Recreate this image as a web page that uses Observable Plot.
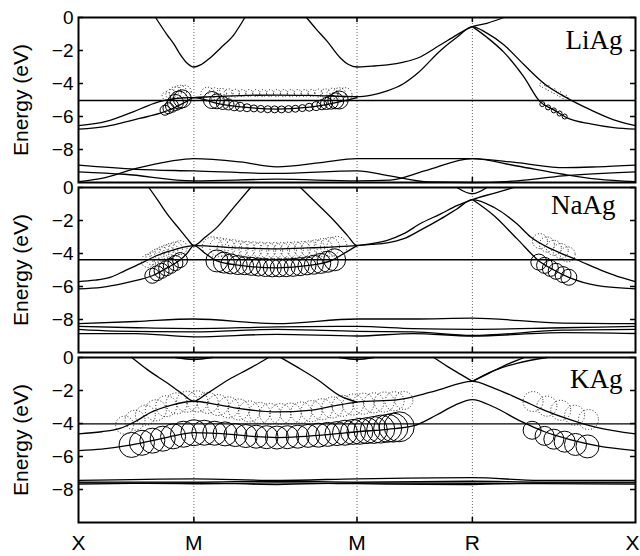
<!DOCTYPE html>
<html><head><meta charset="utf-8">
<script src="https://cdn.jsdelivr.net/npm/d3@7"></script>
<script src="https://cdn.jsdelivr.net/npm/@observablehq/plot@0.6"></script>
<style>
body{margin:0;background:#fff;}
#chart svg{display:block;}
</style></head><body><div id="chart"></div>
<script>
// ---------- data ----------
const panels = ["LiAg", "NaAg", "KAg"];
const kTicks = [0, 0.5, 1.207, 1.707, 2.414];
const kLabels = ["X", "M", "M", "R", "X"];
const yTicks = [0, -2, -4, -6, -8];
const fermiLevels = [-5.03, -4.38, -4.02];

const liAgBands = [
  [[0.334,0],[0.384,-1.05],[0.413,-1.6],[0.442,-2.26],[0.471,-2.77],[0.5,-3.0],[0.529,-2.87],[0.57,-2.45],[0.615,-1.86],[0.673,-1.05],[0.721,0]],
  [[0.988,0],[1.03,-0.7],[1.078,-1.45],[1.136,-2.47],[1.17,-2.85],[1.207,-3.0],[1.27,-2.95],[1.338,-2.87],[1.41,-2.7],[1.468,-2.47],[1.569,-1.65],[1.64,-1.05],[1.707,-0.55],[1.77,-0.35],[1.843,0]],
  [[0,-6.55],[0.12,-6.3],[0.24,-5.7],[0.3,-5.35],[0.355,-5.09],[0.44,-4.89],[0.5,-4.85],[0.7,-4.73],[0.86,-4.7],[1.0,-4.72],[1.207,-4.8],[1.27,-4.7],[1.338,-4.45],[1.41,-4.0],[1.468,-3.4],[1.569,-2.0],[1.64,-1.2],[1.707,-0.55],[1.77,-0.95],[1.843,-1.65],[1.93,-2.85],[2.016,-3.98],[2.12,-4.9],[2.22,-5.6],[2.32,-6.2],[2.414,-6.55]],
  [[0,-6.77],[0.12,-6.6],[0.24,-6.2],[0.3,-6.0],[0.355,-5.8],[0.41,-5.5],[0.46,-5.15],[0.5,-4.85],[0.6,-5.2],[0.73,-5.45],[0.86,-5.55],[0.99,-5.45],[1.1,-5.2],[1.207,-4.85]],
  [[1.707,-0.55],[1.77,-1.2],[1.843,-2.1],[1.93,-3.6],[2.0,-5.1],[2.06,-5.6],[2.12,-6.1],[2.22,-6.45],[2.32,-6.68],[2.414,-6.77]],
  [[0,-9.95],[0.1,-9.75],[0.25,-9.15],[0.4,-8.7],[0.5,-8.55],[0.7,-8.75],[0.86,-9.05],[1.05,-8.8],[1.207,-8.55],[1.45,-8.55],[1.707,-8.55],[1.9,-8.8],[2.11,-9.1],[2.25,-9.05],[2.414,-8.95]],
  [[0,-8.95],[0.25,-9.2],[0.5,-9.3],[0.86,-9.45],[1.207,-9.3],[1.35,-9.6],[1.52,-9.97],[1.707,-10],[1.9,-9.9],[2.1,-9.6],[2.414,-9.35]],
  [[0,-9.35],[0.2,-9.5],[0.5,-9.9],[0.86,-9.8],[1.207,-9.9],[1.35,-9.85],[1.5,-9.3],[1.707,-8.55],[1.9,-9.0],[2.1,-9.5],[2.25,-9.8],[2.414,-9.95]]
];

const naAgBands = [
  [[0.305,0],[0.345,-0.8],[0.384,-1.6],[0.442,-2.6],[0.471,-3.1],[0.5,-3.52],[0.55,-3.0],[0.601,-2.4],[0.673,-1.2],[0.746,0]],
  [[0.962,0],[1.035,-1.0],[1.107,-2.0],[1.165,-2.9],[1.207,-3.52],[1.27,-3.4],[1.338,-3.2],[1.41,-2.8],[1.48,-2.2],[1.57,-1.6],[1.64,-1.1],[1.707,-0.73],[1.8,-0.35],[1.886,0]],
  [[0,-5.7],[0.07,-5.62],[0.14,-5.43],[0.2,-5.05],[0.27,-4.6],[0.34,-4.12],[0.42,-3.75],[0.5,-3.52],[0.7,-3.66],[0.86,-3.72],[1.0,-3.66],[1.207,-3.52],[1.27,-3.45],[1.338,-3.35],[1.41,-3.1],[1.48,-2.6],[1.57,-1.9],[1.64,-1.3],[1.707,-0.73],[1.8,-1.2],[1.9,-2.2],[1.96,-3.0],[2.06,-3.8],[2.16,-4.38],[2.28,-5.1],[2.35,-5.45],[2.414,-5.7]],
  [[0,-6.14],[0.1,-6.05],[0.2,-5.8],[0.26,-5.6],[0.32,-5.35],[0.38,-4.9],[0.44,-4.4],[0.47,-4.0],[0.5,-3.52],[0.55,-4.0],[0.6,-4.45],[0.7,-4.72],[0.86,-4.87],[1.0,-4.72],[1.1,-4.4],[1.15,-4.0],[1.207,-3.52]],
  [[1.707,-0.73],[1.8,-1.7],[1.9,-3.1],[2.0,-4.5],[2.06,-5.0],[2.125,-5.45],[2.25,-5.95],[2.414,-6.14]],
  [[1.64,0],[1.707,-0.38],[1.77,0]],
  [[0,-8.25],[0.25,-8.12],[0.5,-7.97],[0.86,-8.25],[1.207,-7.97],[1.45,-7.97],[1.707,-7.92],[2.1,-8.22],[2.414,-8.25]],
  [[0,-8.42],[0.25,-8.5],[0.5,-8.55],[0.86,-8.45],[1.207,-8.42],[1.45,-8.55],[1.707,-8.6],[2.1,-8.5],[2.414,-8.42]],
  [[0,-8.6],[0.15,-8.7],[0.5,-8.75],[0.86,-8.6],[1.207,-8.72],[1.45,-8.75],[1.707,-8.97],[2.1,-8.65],[2.414,-8.6]],
  [[0,-8.85],[0.25,-8.85],[0.5,-9.05],[0.86,-8.9],[1.207,-9.0],[1.45,-8.85],[1.707,-9.0],[2.1,-8.8],[2.414,-8.85]]
];

const kAgBands = [
  [[0.231,0],[0.3,-0.75],[0.385,-1.55],[0.45,-2.2],[0.5,-2.65],[0.55,-2.25],[0.65,-1.35],[0.75,-0.6],[0.824,0]],
  [[0.876,0],[0.95,-0.6],[1.035,-1.33],[1.136,-2.34],[1.207,-2.7]],
  [[0.42,0],[0.5,-0.12],[0.58,0]],
  [[1.13,0],[1.207,-0.12],[1.28,0]],
  [[0,-4.63],[0.1,-4.5],[0.18,-4.3],[0.25,-3.85],[0.31,-3.35],[0.4,-2.9],[0.5,-2.65],[0.6,-2.85],[0.7,-3.1],[0.86,-3.3],[1.0,-3.2],[1.1,-2.95],[1.207,-2.7],[1.386,-2.55],[1.54,-2.05],[1.707,-1.45],[1.8,-1.85],[1.916,-2.55],[2.02,-3.2],[2.13,-3.76],[2.25,-4.25],[2.414,-4.63]],
  [[0,-5.64],[0.1,-5.55],[0.23,-5.3],[0.35,-4.95],[0.45,-4.65],[0.5,-4.55],[0.6,-4.6],[0.86,-4.85],[1.1,-4.65],[1.207,-4.5],[1.34,-4.35],[1.45,-4.15],[1.55,-3.5],[1.63,-2.9],[1.707,-2.55],[1.8,-3.0],[1.916,-3.86],[2.02,-4.5],[2.13,-4.97],[2.25,-5.35],[2.414,-5.64]],
  [[1.54,0],[1.6,-0.55],[1.66,-1.05],[1.707,-1.45]],
  [[1.707,-1.45],[1.78,-0.95],[1.86,-0.4],[1.93,0]],
  [[1.707,-1.45],[1.8,-0.8],[1.9,-0.35],[2.03,0]],
  [[0,-7.45],[0.5,-7.35],[0.86,-7.45],[1.207,-7.35],[1.707,-7.28],[2.0,-7.45],[2.414,-7.45]],
  [[0,-7.55],[0.5,-7.55],[0.86,-7.5],[1.207,-7.55],[1.707,-7.5],[2.0,-7.55],[2.414,-7.55]],
  [[0,-7.6],[0.5,-7.65],[0.86,-7.6],[1.207,-7.65],[1.707,-7.7],[2.0,-7.6],[2.414,-7.6]],
  [[0,-7.68],[0.5,-7.6],[0.86,-7.7],[1.207,-7.6],[1.707,-7.62],[2.0,-7.65],[2.414,-7.68]]
];

// fat-band circles: [k, E, radius(px)]
const liAgSolid = [
  [0.375,-5.62,5],[0.39,-5.5,5.5],[0.405,-5.35,6.5],[0.42,-5.15,8],[0.435,-5.0,9],[0.45,-4.93,9],
  [0.578,-5.0,8.5],[0.6,-5.08,7.5],[0.625,-5.18,6.5],[0.65,-5.27,5.5],[0.675,-5.35,5],[0.7,-5.41,4.5],[0.73,-5.47,4],[0.76,-5.51,3.5],[0.79,-5.54,3.5],[0.82,-5.56,3.5],[0.85,-5.57,3.5],[0.88,-5.57,3.5],[0.91,-5.55,3.5],[0.94,-5.53,3.5],[0.97,-5.49,3.5],[1.0,-5.44,4],[1.03,-5.37,4.5],[1.055,-5.29,5],[1.075,-5.21,6],[1.095,-5.13,7],[1.115,-5.05,8],[1.13,-5.0,9],
  [2.01,-5.25,2.5],[2.035,-5.45,2.5],[2.06,-5.63,2.5],[2.085,-5.82,2.5],[2.107,-6.0,2.5]
];
const liAgDotted = [
  [0.38,-4.75,4],[0.4,-4.65,5],[0.42,-4.55,6],[0.44,-4.5,6.5],[0.46,-4.5,6.5],
  [0.56,-4.65,7],[0.59,-4.62,6],[0.62,-4.6,5],[0.65,-4.6,4.5],[0.68,-4.59,4],[0.71,-4.58,3.5],[0.74,-4.58,3.5],[0.77,-4.58,3.5],[0.8,-4.58,3.5],[0.83,-4.58,3.5],[0.86,-4.58,3.5],[0.89,-4.58,3.5],[0.92,-4.58,3.5],[0.95,-4.58,3.5],[0.98,-4.58,3.5],[1.01,-4.58,3.5],[1.04,-4.58,4],[1.07,-4.6,4.5],[1.1,-4.62,5.5],[1.13,-4.65,6.5],[1.155,-4.68,7],
  [2.01,-4.08,2.5],[2.035,-4.27,2.5],[2.06,-4.46,2.5],[2.085,-4.65,2.5],[2.11,-4.85,2.5]
];
const naAgSolid = [
  [0.32,-5.35,7.5],[0.34,-5.2,7.5],[0.36,-5.05,7.5],[0.38,-4.9,7.5],[0.4,-4.75,7.5],[0.42,-4.58,7.5],[0.44,-4.4,7.5],
  [0.6,-4.45,11],[0.63,-4.55,10.5],[0.66,-4.63,10],[0.69,-4.7,9.5],[0.72,-4.74,9],[0.75,-4.78,9],[0.78,-4.82,9],[0.81,-4.85,9],[0.84,-4.87,9],[0.87,-4.87,9],[0.9,-4.86,9],[0.93,-4.84,9],[0.96,-4.8,9],[0.99,-4.75,9],[1.02,-4.68,9.5],[1.05,-4.6,10],[1.08,-4.5,10.5],[1.11,-4.38,11],
  [1.995,-4.52,8],[2.02,-4.72,8],[2.045,-4.9,8],[2.07,-5.08,8],[2.1,-5.28,8],[2.125,-5.44,8]
];
const naAgDotted = [
  [0.3,-4.45,6.5],[0.32,-4.3,6.5],[0.34,-4.15,7],[0.36,-4.02,7],[0.38,-3.9,7],[0.4,-3.8,7],[0.42,-3.72,7],[0.44,-3.65,7],
  [0.58,-3.6,10],[0.61,-3.62,9.5],[0.64,-3.65,9],[0.67,-3.68,8.5],[0.7,-3.72,8],[0.73,-3.75,8],[0.76,-3.78,8],[0.79,-3.8,8],[0.82,-3.82,8],[0.85,-3.82,8],[0.88,-3.82,8],[0.91,-3.8,8],[0.94,-3.78,8],[0.97,-3.75,8],[1.0,-3.72,8],[1.03,-3.68,8.5],[1.06,-3.64,9],[1.09,-3.6,9.5],[1.12,-3.57,10],
  [2.0,-3.25,7.5],[2.03,-3.45,7.5],[2.06,-3.65,7.5],[2.09,-3.85,7.5],[2.12,-4.05,7.5]
];
const kAgSolid = [
  [0.23,-5.3,12.5],[0.275,-5.17,12.5],[0.32,-5.04,12.5],[0.365,-4.92,12.5],[0.41,-4.78,12.5],[0.455,-4.65,13],[0.5,-4.56,13],[0.545,-4.56,12.5],[0.59,-4.59,12],[0.635,-4.63,12],[0.68,-4.7,11.5],[0.725,-4.76,11.5],[0.77,-4.8,11.5],[0.815,-4.83,11.5],[0.86,-4.85,11.5],[0.905,-4.83,11.5],[0.95,-4.8,11.5],[0.995,-4.75,11.5],[1.04,-4.71,12],[1.08,-4.66,12],[1.12,-4.61,12],[1.155,-4.56,12.5],[1.19,-4.51,12.5],[1.22,-4.47,13],[1.25,-4.43,13],[1.28,-4.39,13.5],[1.31,-4.34,14],[1.34,-4.29,14],[1.365,-4.25,14.5],[1.39,-4.2,15],
  [1.966,-4.41,9],[2.02,-4.75,9.5],[2.06,-4.95,10],[2.107,-5.1,10.5],[2.154,-5.27,11],[2.206,-5.39,11.5]
];
const kAgDotted = [
  [0.2,-4.1,9],[0.245,-3.8,10],[0.29,-3.5,10],[0.335,-3.2,10.5],[0.38,-2.95,10.5],[0.425,-2.78,10.5],[0.47,-2.68,10.5],[0.515,-2.66,10.5],[0.56,-2.75,10.5],[0.605,-2.88,10.5],[0.65,-3.02,10.5],[0.695,-3.15,10.5],[0.74,-3.27,10.5],[0.785,-3.36,10.5],[0.83,-3.42,10.5],[0.875,-3.43,10.5],[0.92,-3.4,10.5],[0.965,-3.34,10.5],[1.01,-3.25,10.5],[1.055,-3.14,10.5],[1.1,-3.03,10.5],[1.145,-2.93,10.5],[1.19,-2.85,10.5],[1.235,-2.8,10.5],[1.28,-2.75,10],[1.325,-2.7,10],[1.37,-2.65,9.5],[1.41,-2.6,9],
  [1.97,-2.67,10],[2.03,-2.95,10],[2.09,-3.2,10],[2.15,-3.5,10],[2.21,-3.76,10]
];

// ---------- tables built from the arrays ----------
const bandSets = {LiAg: liAgBands, NaAg: naAgBands, KAg: kAgBands};
const solidSets = {LiAg: liAgSolid, NaAg: naAgSolid, KAg: kAgSolid};
const dottedSets = {LiAg: liAgDotted, NaAg: naAgDotted, KAg: kAgDotted};

const bandRows = panels.flatMap(p => bandSets[p].flatMap((b, i) =>
  b.map(([k, E]) => ({panel: p, band: p + "-" + i, k, E}))));
const circleRows = sets => panels.flatMap(p => sets[p].map(([k, E, r]) => ({panel: p, k, E, r})));
const solidRows = circleRows(solidSets);
const dottedRows = circleRows(dottedSets);
const fermiRows = panels.map((p, i) => ({panel: p, E: fermiLevels[i]}));

const labelStyle = {LiAg: {dx: -13, dy: 12}, NaAg: {dx: -20, dy: 7}, KAg: {dx: -13, dy: 11}};
const innerKTicks = kTicks.slice(1, 4);
const lastPanel = panels[panels.length - 1];
const tickLabel = d => kLabels[kTicks.indexOf(d)];

const chart = Plot.plot({
  width: 640,
  height: 556,
  marginTop: 16,
  marginBottom: 34,
  marginLeft: 78,
  marginRight: 5,
  x: {domain: [0, 2.414]},
  y: {domain: [-10, 0]},
  fy: {domain: panels, axis: null, paddingInner: 0.0323, paddingOuter: 0},
  r: {type: "identity"},
  style: {fontFamily: "'Liberation Sans', Arial, Helvetica, sans-serif", background: "white", color: "black", overflow: "visible"},
  marks: [
    Plot.ruleX(innerKTicks, {x: d => d, stroke: "#666", strokeWidth: 1, strokeDasharray: "1,2"}),
    Plot.ruleY(fermiRows, {y: "E", fy: "panel", stroke: "black", strokeWidth: 1.4}),
    Plot.line(bandRows, {x: "k", y: "E", z: "band", fy: "panel", curve: "monotone-x", stroke: "black", strokeWidth: 1.3}),
    Plot.dot(solidRows, {x: "k", y: "E", r: "r", fy: "panel", fill: "none", stroke: "black", strokeWidth: 1}),
    Plot.dot(dottedRows, {x: "k", y: "E", r: "r", fy: "panel", fill: "none", stroke: "black", strokeWidth: 0.9, strokeDasharray: "1,2"}),
    Plot.tickY(yTicks, {y: d => d, insetRight: 552, strokeWidth: 1.5}),
    Plot.tickY(yTicks, {y: d => d, insetLeft: 552, strokeWidth: 1.5}),
    Plot.tickX(innerKTicks, {x: d => d, insetTop: 160, strokeWidth: 1.5}),
    Plot.tickX(innerKTicks, {x: d => d, insetBottom: 160, strokeWidth: 1.5}),
    Plot.frame({stroke: "black", strokeWidth: 2}),
    Plot.axisY(yTicks, {tickSize: 0, tickPadding: 5, fontSize: 19, label: null}),
    Plot.axisX(kTicks.slice(0, 4), {anchor: "bottom", tickSize: 0, tickPadding: 13, fontSize: 21, label: null,
      tickFormat: tickLabel}),
    Plot.text(kTicks.slice(4), {x: d => d, fy: () => lastPanel, text: tickLabel, frameAnchor: "bottom",
      textAnchor: "end", lineAnchor: "top", dx: 4, dy: 13, fontSize: 21}),
    Plot.text(["Energy (eV)"], {text: d => d, frameAnchor: "left", textAnchor: "middle", lineAnchor: "middle",
      rotate: -90, dx: -57, fontSize: 21}),
    ...panels.map(p => Plot.text([p], {text: d => d, fy: d => d, frameAnchor: "top-right",
      textAnchor: "end", lineAnchor: "top", dx: labelStyle[p].dx, dy: labelStyle[p].dy,
      fontFamily: "'Liberation Serif', 'Times New Roman', serif", fontSize: 27}))
  ]
});
document.getElementById("chart").append(chart);
</script>
</body></html>
